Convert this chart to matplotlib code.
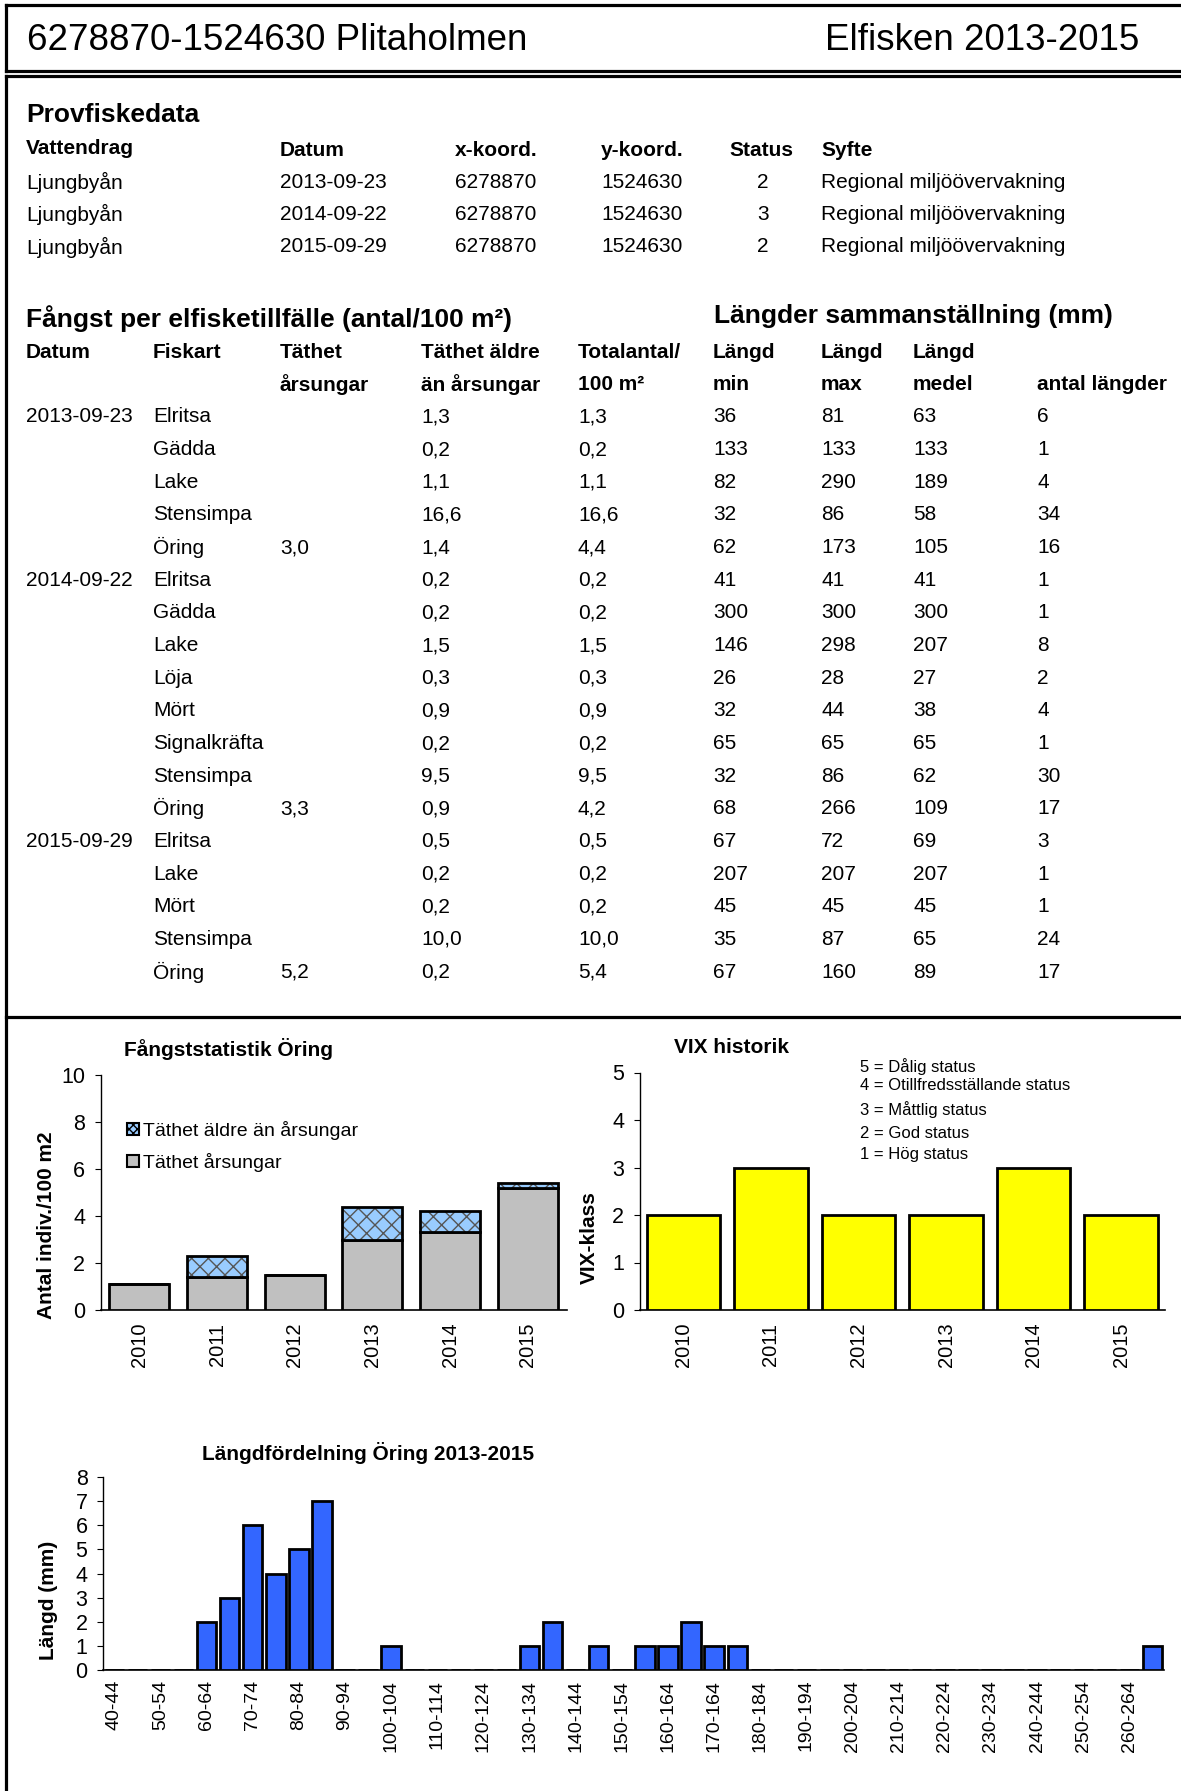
import numpy as np
import matplotlib.pyplot as plt
from matplotlib.patches import Patch

plt.rcParams['font.family'] = ['Liberation Sans', 'DejaVu Sans']

# header
site_title = "6278870-1524630 Plitaholmen"
period_title = "Elfisken 2013-2015"

# provfiskedata
pf_vatten = ["Ljungbyån", "Ljungbyån", "Ljungbyån"]
pf_datum = ["2013-09-23", "2014-09-22", "2015-09-29"]
pf_x = ["6278870", "6278870", "6278870"]
pf_y = ["1524630", "1524630", "1524630"]
pf_status = [2, 3, 2]
pf_syfte = ["Regional miljöövervakning"] * 3

# fangst per elfisketillfalle
f_datum = ["2013-09-23", "", "", "", "", "2014-09-22", "", "", "", "", "", "", "",
           "2015-09-29", "", "", "", ""]
f_art = ["Elritsa", "Gädda", "Lake", "Stensimpa", "Öring",
         "Elritsa", "Gädda", "Lake", "Löja", "Mört", "Signalkräfta", "Stensimpa", "Öring",
         "Elritsa", "Lake", "Mört", "Stensimpa", "Öring"]
f_ars = [None, None, None, None, 3.0,
         None, None, None, None, None, None, None, 3.3,
         None, None, None, None, 5.2]
f_aldre = [1.3, 0.2, 1.1, 16.6, 1.4, 0.2, 0.2, 1.5, 0.3, 0.9, 0.2, 9.5, 0.9,
           0.5, 0.2, 0.2, 10.0, 0.2]
f_total = [1.3, 0.2, 1.1, 16.6, 4.4, 0.2, 0.2, 1.5, 0.3, 0.9, 0.2, 9.5, 4.2,
           0.5, 0.2, 0.2, 10.0, 5.4]
l_min = [36, 133, 82, 32, 62, 41, 300, 146, 26, 32, 65, 32, 68, 67, 207, 45, 35, 67]
l_max = [81, 133, 290, 86, 173, 41, 300, 298, 28, 44, 65, 86, 266, 72, 207, 45, 87, 160]
l_medel = [63, 133, 189, 58, 105, 41, 300, 207, 27, 38, 65, 62, 109, 69, 207, 45, 65, 89]
l_antal = [6, 1, 4, 34, 16, 1, 1, 8, 2, 4, 1, 30, 17, 3, 1, 1, 24, 17]

# charts
years = ["2010", "2011", "2012", "2013", "2014", "2015"]
tathet_arsungar = [1.1, 1.4, 1.5, 3.0, 3.3, 5.2]
tathet_aldre = [0.0, 0.9, 0.0, 1.4, 0.9, 0.2]
vix_klass = [2, 3, 2, 2, 3, 2]
vix_text = ["5 = Dålig status", "4 = Otillfredsställande status", "3 = Måttlig status",
            "2 = God status", "1 = Hög status"]

hist_counts = [0, 0, 0, 0, 2, 3, 6, 4, 5, 7, 0, 0, 1, 0, 0, 0, 0, 0, 1, 2, 0, 1, 0,
               1, 1, 2, 1, 1, 0, 0, 0, 0, 0, 0, 0, 0, 0, 0, 0, 0, 0, 0, 0, 0, 0, 1]
hist_labels = ["40-44", "50-54", "60-64", "70-74", "80-84", "90-94", "100-104",
               "110-114", "120-124", "130-134", "140-144", "150-154", "160-164",
               "170-164", "180-184", "190-194", "200-204", "210-214", "220-224",
               "230-234", "240-244", "250-254", "260-264"]


def fmt(v):
    if v is None:
        return ""
    return ("%.1f" % v).replace(".", ",")


W, H = 1181, 1791
fig = plt.figure(figsize=(W / 100, H / 100), dpi=100)


def box(l, t, r, b):
    return [l / W, 1 - b / H, (r - l) / W, (b - t) / H]


bg = fig.add_axes([0, 0, 1, 1])
bg.set_xlim(0, W)
bg.set_ylim(H, 0)
bg.axis('off')

# frames
lw = 2.3
bg.plot([6, W + 5], [5, 5], color='black', lw=lw)
bg.plot([6, W + 5], [71, 71], color='black', lw=lw)
bg.plot([6, 6], [5, 71], color='black', lw=lw)
bg.plot([6, W + 5], [76, 76], color='black', lw=lw)
bg.plot([6, 6], [76, H + 5], color='black', lw=lw)
bg.plot([6, W + 5], [1017, 1017], color='black', lw=lw)

bg.text(27, 40, site_title, fontsize=26.5, va='center')
bg.text(1139, 40, period_title, fontsize=26.5, va='center', ha='right')

# Provfiskedata
bg.text(26, 115, "Provfiskedata", fontsize=19, fontweight='bold', va='center')
hdr = dict(fontsize=15, fontweight='bold', va='center')
txt = dict(fontsize=15, va='center')
bg.text(26, 148, "Vattendrag", **hdr)
bg.text(280, 150, "Datum", **hdr)
bg.text(455, 150, "x-koord.", **hdr)
bg.text(601, 150, "y-koord.", **hdr)
bg.text(729, 150, "Status", **hdr)
bg.text(821, 150, "Syfte", **hdr)
for i, yy in enumerate([182, 214, 247]):
    bg.text(26, yy, pf_vatten[i], **txt)
    bg.text(280, yy, pf_datum[i], **txt)
    bg.text(455, yy, pf_x[i], **txt)
    bg.text(601, yy, pf_y[i], **txt)
    bg.text(763, yy, str(pf_status[i]), ha='center', **txt)
    bg.text(821, yy, pf_syfte[i], **txt)

# Fangst table
bg.text(26, 319, "Fångst per elfisketillfälle (antal/100 m²)", fontsize=19,
        fontweight='bold', va='center')
bg.text(714, 316, "Längder sammanställning (mm)", fontsize=19, fontweight='bold',
        va='center')
cols = [26, 153, 280, 421, 578, 713, 821, 913, 1037]
row1 = ["Datum", "Fiskart", "Täthet", "Täthet äldre", "Totalantal/", "Längd", "Längd",
        "Längd", ""]
row2 = ["", "", "årsungar", "än årsungar", "100 m²", "min", "max", "medel",
        "antal längder"]
for x, a, b in zip(cols, row1, row2):
    bg.text(x, 352, a, **hdr)
    bg.text(x, 385, b, **hdr)

y0, dy = 417, 32.65
for i in range(len(f_art)):
    yy = y0 + i * dy
    vals = [f_datum[i], f_art[i], fmt(f_ars[i]), fmt(f_aldre[i]), fmt(f_total[i]),
            str(l_min[i]), str(l_max[i]), str(l_medel[i]), str(l_antal[i])]
    for x, v in zip(cols, vals):
        bg.text(x, yy, v, **txt)


def style(ax):
    ax.patch.set_visible(False)
    ax.spines['top'].set_visible(False)
    ax.spines['right'].set_visible(False)
    ax.spines['left'].set_linewidth(1)
    ax.spines['bottom'].set_linewidth(1.2)
    ax.tick_params(axis='y', labelsize=15.5, length=4, pad=7, width=0.8)
    ax.tick_params(axis='x', labelsize=14.5, length=0, pad=9, labelrotation=90)


# Fangststatistik Oring
ax1 = fig.add_axes(box(100.5, 1075, 566.5, 1310))
xpos = np.arange(len(years))
ax1.bar(xpos, tathet_arsungar, width=0.77, color='#C0C0C0', edgecolor='black',
        linewidth=2, zorder=3)
ax1.bar(xpos, tathet_aldre, width=0.77, bottom=tathet_arsungar, color='#99CCFF',
        edgecolor='#555555', hatch='xx', linewidth=0, zorder=3)
ax1.bar(xpos, tathet_aldre, width=0.77, bottom=tathet_arsungar, color='none',
        edgecolor='black', linewidth=2, zorder=4)
ax1.set_xlim(-0.5, len(years) - 0.5)
ax1.set_ylim(0, 10)
ax1.set_yticks([0, 2, 4, 6, 8, 10])
ax1.set_xticks(xpos)
ax1.set_xticklabels(years)
style(ax1)
ax1.set_ylabel("Antal indiv./100 m2", fontsize=15, fontweight='bold')
ax1.yaxis.set_label_coords(-0.095, 0.36)
ax1.set_title("Fångststatistik Öring", fontsize=15, fontweight='bold', x=0.275, pad=14)
handles = [Patch(facecolor='#99CCFF', edgecolor='black', hatch='xxxx', linewidth=1.5),
           Patch(facecolor='#C0C0C0', edgecolor='black', linewidth=1.5)]
ax1.legend(handles, ["Täthet äldre än årsungar", "Täthet årsungar"], frameon=False,
           fontsize=14, loc='upper left', bbox_to_anchor=(0.057, 0.806),
           handlelength=0.6, handleheight=0.6, handletextpad=0.2, labelspacing=0.69,
           borderpad=0, borderaxespad=0)

# VIX historik
ax2 = fig.add_axes(box(639.6, 1072.5, 1165, 1310))
ax2.bar(xpos, vix_klass, width=0.84, color='#FFFF00', edgecolor='black', linewidth=2,
        zorder=3)
ax2.set_xlim(-0.5, len(years) - 0.5)
ax2.set_ylim(0, 5)
ax2.set_yticks([0, 1, 2, 3, 4, 5])
ax2.set_xticks(xpos)
ax2.set_xticklabels(years)
style(ax2)
ax2.set_ylabel("VIX-klass", fontsize=15, fontweight='bold')
ax2.yaxis.set_label_coords(-0.078, 0.307)
ax2.set_title("VIX historik", fontsize=15, fontweight='bold', x=0.175, pad=14)
for t, yy in zip(vix_text, [1067, 1086, 1110, 1133, 1154]):
    bg.text(860, yy, t, fontsize=12, va='center')

# Langdfordelning
ax3 = fig.add_axes(box(102.8, 1477, 1164, 1670))
hpos = np.arange(len(hist_counts))
ax3.bar(hpos, hist_counts, width=0.84, color='#3366FF', edgecolor='black',
        linewidth=2, zorder=3)
ax3.set_xlim(-0.5, len(hist_counts) - 0.5)
ax3.set_ylim(0, 8)
ax3.set_yticks(range(9))
ax3.set_xticks(hpos[::2])
ax3.set_xticklabels(hist_labels)
style(ax3)
ax3.tick_params(axis='x', labelsize=14, pad=7)
ax3.set_ylabel("Längd (mm)", fontsize=15, fontweight='bold')
ax3.yaxis.set_label_coords(-0.042, 0.36)
ax3.set_title("Längdfördelning Öring 2013-2015", fontsize=15, fontweight='bold',
              x=0.25, pad=12)

fig.savefig("out.png", dpi=100)
